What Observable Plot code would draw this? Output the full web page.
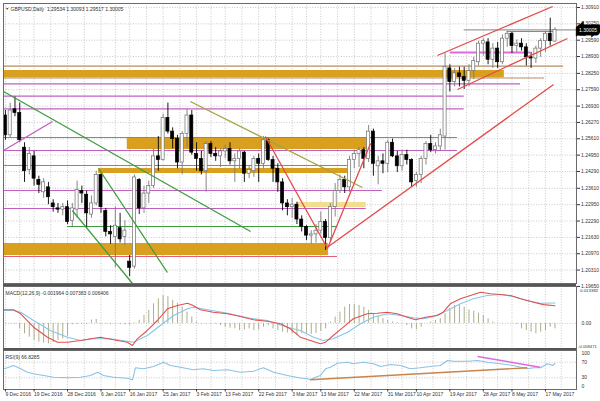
<!DOCTYPE html>
<html><head><meta charset="utf-8">
<script src="https://cdn.jsdelivr.net/npm/d3@7"></script>
<script src="https://cdn.jsdelivr.net/npm/@observablehq/plot@0.6"></script>
<style>
html,body{margin:0;padding:0;background:#fff;}
#chart{position:relative;width:600px;height:401px;overflow:hidden;background:#fff;font-family:"Liberation Sans",Arial,sans-serif;}
#chart svg{position:absolute;left:0;}
</style></head><body><div id="chart"></div>
<script>
// ---------- price data (bar index 0 = 9 Dec 2016 ... 115 = 19 May 2017) ----------
const open = [
1.2655,1.2575,1.2680,1.2665,1.2525,1.2435,1.2490,1.2395,1.2345,1.2365,
1.2300,1.2280,1.2275,1.2285,1.2230,1.2275,1.2350,1.2335,1.2255,1.2300,
1.2415,1.2270,1.2185,1.2165,1.2200,1.2165,1.2065,1.2045,1.2395,1.2280,
1.2340,1.2370,1.2490,1.2475,1.2645,1.2590,1.2560,1.2465,1.2580,1.2655,
1.2500,1.2480,1.2430,1.2540,1.2500,1.2490,1.2510,1.2520,1.2470,1.2480,
1.2505,1.2420,1.2430,1.2480,1.2460,1.2555,1.2475,1.2440,1.2385,1.2300,
1.2285,1.2295,1.2235,1.2205,1.2170,1.2175,1.2190,1.2225,1.2160,1.2285,
1.2350,1.2395,1.2365,1.2475,1.2500,1.2515,1.2480,1.2590,1.2450,1.2470,
1.2460,1.2545,1.2490,1.2450,1.2495,1.2475,1.2390,1.2415,1.2480,1.2540,
1.2515,1.2530,1.2570,1.2845,1.2790,1.2825,1.2810,1.2795,1.2835,1.2870,
1.2945,1.2950,1.2880,1.2925,1.2870,1.2965,1.2985,1.2935,1.2945,1.2930,
1.2890,1.2885,1.2925,1.2955,1.2985,1.29534];
const high = [
1.2675,1.2705,1.2730,1.2705,1.2545,1.2525,1.2510,1.2410,1.2400,1.2385,
1.2315,1.2300,1.2300,1.2310,1.2300,1.2390,1.2370,1.2350,1.2330,1.2430,
1.2420,1.2280,1.2210,1.2285,1.2260,1.2230,1.2090,1.2415,1.2400,1.2370,
1.2390,1.2520,1.2570,1.2660,1.2705,1.2605,1.2575,1.2590,1.2680,1.2675,
1.2545,1.2510,1.2550,1.2550,1.2525,1.2520,1.2535,1.2545,1.2500,1.2520,
1.2510,1.2450,1.2490,1.2500,1.2570,1.2560,1.2490,1.2460,1.2400,1.2315,
1.2320,1.2305,1.2250,1.2210,1.2190,1.2215,1.2265,1.2235,1.2300,1.2380,
1.2415,1.2410,1.2490,1.2515,1.2525,1.2525,1.2615,1.2600,1.2490,1.2500,
1.2555,1.2560,1.2510,1.2515,1.2515,1.2480,1.2425,1.2490,1.2550,1.2575,
1.2545,1.2600,1.2905,1.2860,1.2845,1.2850,1.2850,1.2860,1.2890,1.2955,
1.2965,1.2965,1.2945,1.2950,1.2980,1.2995,1.2990,1.2960,1.2965,1.2945,
1.2910,1.2935,1.2965,1.2995,1.3048,1.30093];
const low = [
1.2555,1.2565,1.2650,1.2545,1.2385,1.2415,1.2370,1.2340,1.2320,1.2295,
1.2265,1.2260,1.2250,1.2215,1.2205,1.2240,1.2300,1.2200,1.2240,1.2290,
1.2260,1.2165,1.2135,1.2040,1.2140,1.2130,1.2005,1.2035,1.2255,1.2260,
1.2300,1.2360,1.2430,1.2470,1.2580,1.2520,1.2440,1.2415,1.2525,1.2495,
1.2430,1.2415,1.2345,1.2485,1.2470,1.2445,1.2480,1.2455,1.2385,1.2440,
1.2385,1.2400,1.2405,1.2385,1.2440,1.2470,1.2385,1.2345,1.2270,1.2250,
1.2240,1.2215,1.2185,1.2150,1.2135,1.2140,1.2175,1.2110,1.2145,1.2245,
1.2340,1.2340,1.2345,1.2440,1.2445,1.2440,1.2465,1.2410,1.2375,1.2420,
1.2425,1.2485,1.2425,1.2430,1.2455,1.2365,1.2365,1.2380,1.2455,1.2505,
1.2500,1.2510,1.2515,1.2750,1.2770,1.2770,1.2760,1.2770,1.2800,1.2855,
1.2895,1.2860,1.2845,1.2845,1.2860,1.2930,1.2905,1.2910,1.2915,1.2855,
1.2845,1.2865,1.2890,1.2910,1.2935,1.29517];
const close = [
1.2575,1.2675,1.2665,1.2555,1.2430,1.2500,1.2400,1.2375,1.2385,1.2325,
1.2285,1.2275,1.2285,1.2225,1.2280,1.2355,1.2340,1.2260,1.2300,1.2415,
1.2285,1.2185,1.2175,1.2210,1.2155,1.2190,1.2040,1.2405,1.2280,1.2340,
1.2370,1.2490,1.2475,1.2645,1.2590,1.2560,1.2465,1.2580,1.2655,1.2505,
1.2480,1.2430,1.2540,1.2500,1.2490,1.2510,1.2520,1.2470,1.2480,1.2510,
1.2420,1.2435,1.2480,1.2460,1.2555,1.2475,1.2440,1.2385,1.2300,1.2285,
1.2295,1.2235,1.2205,1.2170,1.2175,1.2190,1.2225,1.2160,1.2285,1.2350,
1.2395,1.2365,1.2475,1.2500,1.2515,1.2480,1.2590,1.2460,1.2470,1.2460,
1.2545,1.2490,1.2450,1.2495,1.2475,1.2385,1.2415,1.2480,1.2540,1.2515,
1.2530,1.2575,1.2850,1.2790,1.2825,1.2810,1.2795,1.2835,1.2875,1.2945,
1.2955,1.2880,1.2925,1.2870,1.2965,1.2985,1.2935,1.2945,1.2930,1.2890,
1.2885,1.2925,1.2955,1.2985,1.2955,1.30005];

// ---------- axes ----------
const priceTicks = [1.30910,1.30250,1.29590,1.28930,1.28250,1.27590,1.26930,1.26270,1.25610,
  1.24950,1.24290,1.23610,1.22950,1.22290,1.21630,1.20970,1.20310,1.19650];
const dateLabels = ["9 Dec 2016","19 Dec 2016","28 Dec 2016","6 Jan 2017","16 Jan 2017","25 Jan 2017",
  "3 Feb 2017","13 Feb 2017","22 Feb 2017","3 Mar 2017","13 Mar 2017","22 Mar 2017","31 Mar 2017",
  "10 Apr 2017","19 Apr 2017","28 Apr 2017","8 May 2017","17 May 2017"];
const dateIdx = [0,6,13,20,26,33,40,46,53,60,66,73,80,86,93,100,106,113];

// ---------- drawn objects on the price chart ----------
const zoneFrom = [-0.4, 25.5, 19.5, 61.1, -0.4];
const zoneTo   = [104.4, 75.8, 71.6, 75.5, 67.6];
const zoneLow  = [1.28072, 1.25177, 1.24208, 1.22836, 1.20898];
const zoneHigh = [1.28367, 1.25621, 1.24410, 1.23038, 1.21382];
const zoneKind = ["orange","orange","orange","yellow","orange"];

const levelPrice = [1.28540,1.28064,1.27830,1.27329,1.26820,1.25662,1.25137,1.24531,1.23522,1.22795,1.22069,1.20857,1.29941,1.29093,1.30005];
const levelFrom  = [-0.4,-0.4,-0.4,-0.4,-0.4,-0.4,-0.4,-0.4,-0.4,-0.4,13.0,-0.4,105.0,93.1,96.0];
const levelTo    = [116.8,112.8,107.8,96.0,96.0,94.6,94.6,71.6,78.9,75.5,69.5,69.5,115.3,109.9,119.5];
const levelKind  = ["tan","tan","purple","purple","purple","purple","purple","purple","purple","purple","green","pink","purple","magenta","bid"];

const trendFrom = [-0.4, 14.0, 19.5, -0.4, 38.7, 54.4, 67.4, 67.6, 90.4, 94.6];
const trendTo   = [51.3, 26.6, 33.9, 9.85, 74.7, 67.4, 76.4, 114.7, 114.5, 117.6];
const trendP1   = [1.27519,1.22715,1.24410,1.25137,1.27115,1.25702,1.21180,1.21261,1.28972,1.27599];
const trendP2   = [1.21867,1.19768,1.20212,1.26308,1.23643,1.21180,1.25419,1.27801,1.30950,1.29658];
const trendKind = ["green","green","green","purple","olive","red","red","red","red","red"];

// ---------- MACD(12,26,9) ----------
const histMilli = [
-0.2,-0.2,-0.3,-2.0,-3.8,-5.0,-6.2,-6.8,-7.2,-7.4,
-7.0,-6.2,-5.6,-4.8,-0.5,-0.4,-0.3,-0.4,1.2,1.4,
-0.3,-0.3,-0.4,-0.3,-0.4,-0.5,-0.6,0.2,1.1,2.9,
4.7,7.1,8.9,10.1,9.7,8.3,7.3,5.9,4.1,2.3,
0.5,-0.2,-0.2,-0.2,-0.3,-0.8,-1.4,-1.7,-2.0,-2.6,
-2.4,-2.0,-2.6,-2.4,-1.4,-0.8,-2.0,-2.6,-3.2,-3.5,
-3.8,-4.4,-3.6,-3.9,-4.0,-3.6,-2.9,-2.0,0.5,2.3,
4.1,5.9,6.9,6.9,6.5,5.9,4.7,3.5,2.6,1.7,
1.1,0.5,0.3,0.1,-0.8,-2.0,-2.3,-1.4,0.0,0.5,
1.1,1.7,3.5,5.3,6.5,6.5,5.9,4.9,4.4,3.7,
2.9,1.7,0.5,0.1,0.1,0.1,0.1,-0.4,-2.0,-2.6,
-3.2,-3.8,-3.2,-2.6,-1.4,-1.964];
const redIdx = [-0.4,1.7,3.2,5.9,8.8,10.9,13.0,15.7,17.8,19.9,22.6,25.5,26.6,27.6,29.7,31.8,33.9,36.0,38.1,39.3,40.8,43.5,46.5,49.2,51.9,54.8,57.6,59.6,61.7,63.8,65.9,67.0,68.6,70.7,72.8,75.7,77.8,79.9,82.0,84.1,85.8,87.9,90.4,91.6,93.1,95.2,97.3,99.4,101.5,103.6,105.7,107.8,110.5,112.6,115];
const redMilli = [4.93,4.93,3.48,-1.38,-5.01,-6.82,-6.82,-6.20,-5.59,-5.01,-5.95,-6.82,-8.02,-5.59,-2.57,1.05,5.30,6.49,7.33,6.49,4.93,4.06,3.48,2.50,1.31,0.80,-0.15,-1.96,-5.01,-6.20,-7.40,-6.82,-4.39,-1.38,1.67,3.48,3.70,4.06,3.48,2.25,1.31,2.25,2.87,4.06,7.11,8.92,10.12,11.32,10.74,10.48,10.12,8.92,7.69,6.80,6.406];
const blueIdx = [-0.4,1.7,3.2,5.9,9.4,13.0,15.7,18.4,22.0,25.5,26.8,29.7,32.4,35.2,38.1,39.3,42.3,46.5,50.6,54.8,59.0,61.7,64.5,66.5,68.6,71.6,74.3,77.0,79.9,82.7,85.4,87.5,89.6,92.5,95.2,97.9,100.8,103.6,106.3,109.2,111.9,115];
const blueMilli = [4.70,4.68,4.06,1.05,-2.58,-5.01,-6.20,-5.59,-5.59,-6.46,-6.82,-4.39,-0.76,2.87,5.30,5.88,4.93,3.70,2.03,1.05,-1.38,-2.58,-5.01,-6.20,-5.59,-3.19,-0.15,2.25,3.48,2.87,2.03,1.67,2.50,4.68,7.11,8.92,10.12,10.48,9.76,8.31,7.30,7.383];
const macdMax = 0.013382, macdMin = -0.009471;

// ---------- RSI(9) ----------
const rsiIdx = [-0.4,0.4,1.7,3.2,4.6,5.9,8.0,10.1,13,15.7,17.8,19.3,20.5,22.6,25.5,26.6,27.2,28.9,31,33.1,34.5,36.6,39.3,41.4,43.5,46.5,49.2,51.9,54,56.1,59,61.7,63.2,63.8,64.9,65.9,67,68,69.5,71.6,72.8,74.9,77,78.5,80.6,82.7,84.7,86.8,88.9,91,92.5,93.7,96.7,98.8,100.9,103.6,106.3,109.2,110.5,112,113.4,114.5,115];
const rsiVal = [53.1,55.6,61.5,53.1,44.4,40.3,35.9,31.5,30.0,31.5,35.9,44.4,35.9,31.5,29.0,24.9,55.6,53.1,59.0,70.0,61.5,57.2,50.5,53.1,48.7,50.5,44.4,46.9,55.6,44.4,35.9,29.5,27.4,24.9,31.5,35.9,53.1,57.2,67.4,70.0,65.9,70.0,65.9,59.0,64.1,61.5,53.1,55.6,59.0,61.5,74.4,72.6,72.6,74.4,70.0,65.9,61.5,53.1,55.6,55.6,65.9,61.5,66.8285];
const rsiTrendFrom = [63.8, 98.8];
const rsiTrendTo   = [109.2, 111.9];
const rsiTrendV1   = [24.9, 84.6];
const rsiTrendV2   = [55.6, 57.2];
const rsiTrendKind = ["brown","magenta"];

// ---------- styling ----------
const COL = {orange:"#d9a01f", yellow:"#f3de8e", tan:"#b48c64", purple:"#c060c0", green:"#3f9c3f",
  pink:"#e0607a", magenta:"#dc6cdc", olive:"#a3a342", red:"#e24a4a", bid:"#9a9a9a", brown:"#c8844a"};
const FONT = "Liberation Sans, Arial, sans-serif";
const xDomain = [-0.4, 119.5];
const gridStyle = {stroke:"#a4a4a4", strokeOpacity:1, strokeWidth:0.6, strokeDasharray:"1,1.6"};
const gridIdx = [];
dateIdx.forEach((d, k) => { gridIdx.push(d); if (k < dateIdx.length - 1) gridIdx.push((d + dateIdx[k + 1]) / 2); });
gridIdx.push(dateIdx[dateIdx.length - 1] + 3.3);
const fmt5 = d3.format(".5f");

const bars = open.map((o, i) => ({i, o, h: high[i], l: low[i], c: close[i], up: close[i] >= o}));
const zones = zoneFrom.map((f, k) => ({x1: f, x2: zoneTo[k], y1: zoneLow[k], y2: zoneHigh[k], kind: zoneKind[k]}));
const levels = levelPrice.map((p, k) => ({y: p, x1: levelFrom[k], x2: levelTo[k], kind: levelKind[k]}));
const trends = trendFrom.map((f, k) => ({x1: f, x2: trendTo[k], y1: trendP1[k], y2: trendP2[k], kind: trendKind[k]}));
const last = open.length - 1;
const title = `GBPUSD,Daily  ${fmt5(open[last])} ${fmt5(high[last])} ${fmt5(low[last])} ${fmt5(close[last])}`;

const common = {width: 600, marginLeft: 3, marginRight: 24, x: {domain: xDomain, axis: null},
  style: {background: "transparent", overflow: "visible", fontFamily: FONT}};

const mainPlot = Plot.plot({
  ...common, height: 286, marginTop: 3, marginBottom: 3,
  y: {domain: [1.19768, 1.31071], axis: null},
  marks: [
    Plot.gridY(priceTicks, gridStyle),
    Plot.gridX(gridIdx, gridStyle),
    Plot.rect(zones, {x1: "x1", x2: "x2", y1: "y1", y2: "y2", fill: d => COL[d.kind]}),
    Plot.ruleY(levels, {y: "y", x1: "x1", x2: "x2", stroke: d => COL[d.kind], strokeWidth: d => d.kind === "magenta" ? 2 : 1.2}),
    Plot.ruleX(bars, {x: "i", y1: "l", y2: "h", stroke: d => d.up ? "#7a7a7a" : "#000", strokeWidth: 0.9}),
    Plot.rect(bars, {x1: d => d.i - 0.32, x2: d => d.i + 0.32, y1: d => Math.min(d.o, d.c), y2: d => Math.max(d.o, d.c),
      fill: d => d.up ? "#ffffff" : "#000000", stroke: d => d.up ? "#6e6e6e" : "#000000", strokeWidth: 0.7}),
    Plot.link(trends, {x1: "x1", y1: "y1", x2: "x2", y2: "y2", stroke: d => COL[d.kind], strokeWidth: 1.3}),
    Plot.frame({stroke: "#6a6a6a", strokeWidth: 1}),
    Plot.axisY(priceTicks, {anchor: "right", tickSize: 3, tickPadding: 1.5, fontSize: 5, tickFormat: fmt5, color: "#333"}),
    Plot.text([close[last]], {y: d => d, frameAnchor: "right", dx: 2.5, text: d => fmt5(d), textAnchor: "start",
      fontSize: 5, fill: "#fff", stroke: "#000", strokeWidth: 7, strokeLinejoin: "miter"}),
    Plot.text(["\u25BC"], {frameAnchor: "top-left", dx: 2, dy: 4, fontSize: 3.5, fill: "#333"}),
    Plot.text([title], {frameAnchor: "top-left", dx: 7, dy: 3.5, fontSize: 5, textAnchor: "start", fill: "#333"})
  ]
});

const hist = histMilli.map((v, i) => ({i, v: v / 1000}));
const red = redIdx.map((x, k) => ({x, v: redMilli[k] / 1000}));
const blue = blueIdx.map((x, k) => ({x, v: blueMilli[k] / 1000}));
const macdTitle = `MACD(12,26,9) ${(histMilli[last] / 1000).toFixed(6)} ${(blueMilli[blueMilli.length - 1] / 1000).toFixed(6)} ${(redMilli[redMilli.length - 1] / 1000).toFixed(6)}`;

const macdPlot = Plot.plot({
  ...common, height: 68, marginTop: 3, marginBottom: 2,
  y: {domain: [macdMin, macdMax], axis: null},
  marks: [
    Plot.gridX(gridIdx, gridStyle),
    Plot.gridY([0], gridStyle),
    Plot.ruleX(hist, {x: "i", y1: 0, y2: "v", stroke: "#a4a482", strokeWidth: 0.9}),
    Plot.line(blue, {x: "x", y: "v", stroke: "#86c6e6", strokeWidth: 1.1}),
    Plot.line(red, {x: "x", y: "v", stroke: "#e2504e", strokeWidth: 1.1}),
    Plot.frame({stroke: "#6a6a6a"}),
    Plot.ruleY([macdMax], {stroke: "#555", strokeWidth: 2, dy: -1.5}),
    Plot.text([macdMax], {y: d => d, frameAnchor: "right", dx: 3.5, dy: 4.5, text: d => d.toFixed(6), textAnchor: "start", fontSize: 4.4, fill: "#333"}),
    Plot.text([0], {y: d => d, frameAnchor: "right", dx: 5, text: d => d.toFixed(2), textAnchor: "start", fontSize: 5, fill: "#333"}),
    Plot.text([macdMin], {y: d => d, frameAnchor: "right", dx: 1.5, dy: -3.3, text: d => d.toFixed(6), textAnchor: "start", fontSize: 4.2, fill: "#333"}),
    Plot.text([macdTitle], {frameAnchor: "top-left", dx: 2, dy: 5, fontSize: 5, textAnchor: "start", fill: "#333"})
  ]
});

const rsi = rsiIdx.map((x, k) => ({x, v: rsiVal[k]}));
const rsiTrends = rsiTrendFrom.map((f, k) => ({x1: f, x2: rsiTrendTo[k], y1: rsiTrendV1[k], y2: rsiTrendV2[k], kind: rsiTrendKind[k]}));
const labelMap = new Map(dateIdx.map((d, k) => [d, dateLabels[k]]));

const rsiPlot = Plot.plot({
  ...common, height: 52, marginTop: 1, marginBottom: 12,
  y: {domain: [0, 100], axis: null},
  marks: [
    Plot.gridX(gridIdx, gridStyle),
    Plot.gridY([70, 30], gridStyle),
    Plot.line(rsi, {x: "x", y: "v", stroke: "#8ac2e4", strokeWidth: 1.1}),
    Plot.link(rsiTrends, {x1: "x1", y1: "y1", x2: "x2", y2: "y2", stroke: d => COL[d.kind], strokeWidth: 1.4}),
    Plot.frame({stroke: "#6a6a6a"}),
    Plot.ruleY([100], {stroke: "#555", strokeWidth: 2, dy: -1.5}),
    Plot.text([100], {y: d => d, frameAnchor: "right", dx: 5, dy: 3, text: d => String(d), textAnchor: "start", fontSize: 5, fill: "#333"}),
    Plot.text([70, 30], {y: d => d, frameAnchor: "right", dx: 5, text: d => String(d), textAnchor: "start", fontSize: 5, fill: "#333"}),
    Plot.text([0], {y: d => d, frameAnchor: "right", dx: 5, dy: -3.5, text: d => String(d), textAnchor: "start", fontSize: 5, fill: "#333"}),
    Plot.text([`RSI(9) ${rsiVal[rsiVal.length - 1].toFixed(4)}`], {frameAnchor: "top-left", dx: 2, dy: 4.5, fontSize: 5, textAnchor: "start", fill: "#333"}),
    Plot.axisX(dateIdx, {anchor: "bottom", tickSize: 2.5, tickPadding: 0.5, fontSize: 5, tickFormat: d => labelMap.get(d), textAnchor: "start", color: "#333"})
  ]
});

const chart = document.getElementById("chart");
[[mainPlot, 0], [macdPlot, 283], [rsiPlot, 349]].forEach(([svg, top]) => {
  svg.style.position = "absolute";
  svg.style.top = top + "px";
  svg.style.left = "0px";
  chart.appendChild(svg);
});
</script></body></html>
